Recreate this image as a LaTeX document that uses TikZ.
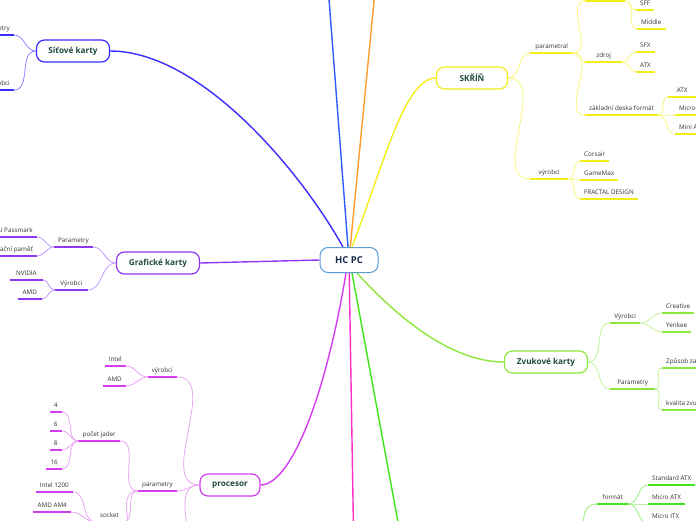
\documentclass[tikz,border=0pt]{standalone}
\usepackage{fontspec}
\setmainfont{Open Sans}

\definecolor{hcline}{HTML}{5B9BD5}
\definecolor{hctext}{HTML}{1C2B4A}
\definecolor{topictext}{HTML}{1D4A3C}
\definecolor{leaftext}{HTML}{333333}
\definecolor{sitc}{HTML}{3A2BFF}
\definecolor{sitl}{HTML}{8C86FF}
\definecolor{grac}{HTML}{9038F0}
\definecolor{gral}{HTML}{C29BFF}
\definecolor{skrc}{HTML}{F2EE1A}
\definecolor{skrl}{HTML}{FAF77A}
\definecolor{zvuc}{HTML}{8CE83A}
\definecolor{zvul}{HTML}{C2F59A}
\definecolor{proc}{HTML}{D43CF0}
\definecolor{prol}{HTML}{EBA3F7}
\definecolor{zakc}{HTML}{3FE81A}
\definecolor{zakl}{HTML}{9BF07F}
\definecolor{topblue}{HTML}{2F5BFF}
\definecolor{toporange}{HTML}{FF9C2A}
\definecolor{botpink}{HTML}{FF2FCB}

\tikzset{
    hub/.style={draw=hcline, line width=1pt, rounded corners=8pt, fill=white,
        minimum width=58pt, minimum height=25pt, text=hctext,
        font=\fontsize{9.5}{10}\selectfont\bfseries},
    topic/.style={draw=#1, line width=1.2pt, rounded corners=8pt, fill=white,
        minimum height=22pt, text=topictext,
        font=\fontsize{8.2}{9}\selectfont\bfseries},
    leaf/.style={font=\fontsize{6.3}{7}\selectfont, text=leaftext,
        inner xsep=4pt, inner ysep=2.5pt, text height=4.7pt, text depth=1.4pt,
        append after command={(\tikzlastnode.south west) edge[draw=#1, line width=1.8pt] (\tikzlastnode.south east)}},
    twig/.style={draw=#1, line width=0.8pt},
    main/.style={draw=#1, line width=1.4pt},
}

\begin{document}
\begin{tikzpicture}[x=1pt, y=-1pt]
    \useasboundingbox[fill=white] (0,0) rectangle (696,520);

    % Central node
    \node[hub] (hc) at (349,260) {HC PC};

    % Draw main topics
    \node[topic=sitc, minimum width=73pt] (sit) at (73,51) {Síťové karty};
    \node[topic=grac, minimum width=83pt] (gra) at (158,263) {Grafické karty};
    \node[topic=skrc, minimum width=71pt] (skr) at (472,78) {SKŘÍŇ};
    \node[topic=zvuc, minimum width=83pt] (zvu) at (546,362) {Zvukové karty};
    \node[topic=proc, minimum width=60pt] (pro) at (230,485) {procesor};

    % Topics beyond the page edge
    \coordinate (offA) at (326,-40);
    \coordinate (offB) at (378,-40);
    \coordinate (offC) at (354,560);
    \coordinate (offD) at (405,560);
    \coordinate (zak) at (575,590);

    % Draw main connections
    \draw[main=sitc] ([xshift=-6pt]hc.north) .. controls (300,170) and (200,51) .. (sit.east);
    \draw[main=topblue] (hc) -- (offA);
    \draw[main=toporange] (hc) -- (offB);
    \draw[main=skrc] ([xshift=3pt]hc.north) .. controls (385,160) and (405,78) .. (skr.west);
    \draw[main=zvuc] ([xshift=8pt]hc.south) .. controls (395,315) and (450,362) .. (zvu.west);
    \draw[main=zakc] ([xshift=3pt]hc.south) -- (offD);
    \draw[main=botpink] (hc) -- (offC);
    \draw[main=proc] ([xshift=-3pt]hc.south) .. controls (325,400) and (290,485) .. (pro.east);
    \draw[main=grac] (hc.west) -- (gra.east);

    % Síťové karty
    \node[leaf=sitc, anchor=south east] (sitpar) at (14,35) {Parametry};
    \node[leaf=sitc, anchor=south east] (sitvyr) at (14,90) {Výrobci};
    \draw[twig=sitl] (sit.west) to[out=180, in=0] (sitpar.south east);
    \draw[twig=sitl] (sit.west) to[out=180, in=0] (sitvyr.south east);

    % Grafické karty
    \node[leaf=grac, anchor=south east] (grapar) at (93,247) {Parametry};
    \node[leaf=grac, anchor=south east, minimum width=33pt] (gravyr) at (88,290) {Výrobci};
    \node[leaf=grac, anchor=south east] (grapass) at (37,237) {GPU Passmark};
    \node[leaf=grac, anchor=south east] (gramem) at (37,256) {Operační paměť};
    \node[leaf=grac, anchor=south east, minimum width=33pt] (granv) at (43,280) {NVIDIA};
    \node[leaf=grac, anchor=south east, minimum width=24pt] (graamd) at (42,299) {AMD};
    \draw[twig=gral] (gra.west) to[out=180, in=0] (grapar.south east);
    \draw[twig=gral] (gra.west) to[out=180, in=0] (gravyr.south east);
    \draw[twig=gral] (grapar.south west) to[out=180, in=0] (grapass.south east);
    \draw[twig=gral] (grapar.south west) to[out=180, in=0] (gramem.south east);
    \draw[twig=gral] (gravyr.south west) to[out=180, in=0] (granv.south east);
    \draw[twig=gral] (gravyr.south west) to[out=180, in=0] (graamd.south east);

    % procesor
    \node[leaf=proc, anchor=south east] (provyr) at (177,377) {výrobci};
    \node[leaf=proc, anchor=south east] (proint) at (126,366) {Intel};
    \node[leaf=proc, anchor=south east] (proamd) at (126,386) {AMD};
    \node[leaf=proc, anchor=south east] (propar) at (177,491) {parametry};
    \node[leaf=proc, anchor=south east] (projad) at (120,441) {počet jader};
    \node[leaf=proc, anchor=south east, minimum width=12pt] (pro4) at (62,412) {4};
    \node[leaf=proc, anchor=south east, minimum width=12pt] (pro6) at (62,431) {6};
    \node[leaf=proc, anchor=south east, minimum width=12pt] (pro8) at (62,450) {8};
    \node[leaf=proc, anchor=south east, minimum width=15pt] (pro16) at (62,469) {16};
    \node[leaf=proc, anchor=south east] (prosock) at (123,522) {socket};
    \node[leaf=proc, anchor=south east] (proi12) at (73,492) {Intel 1200};
    \node[leaf=proc, anchor=south east] (proam4) at (71,512) {AMD AM4};
    \coordinate (prooff) at (177,580);
    \coordinate (paroff) at (122,570);
    \draw[twig=prol] (pro.west) to[out=180, in=0] (provyr.south east);
    \draw[twig=prol] (pro.west) to[out=180, in=0] (propar.south east);
    \draw[twig=prol] (pro.west) to[out=180, in=0] (prooff);
    \draw[twig=prol] (provyr.south west) to[out=180, in=0] (proint.south east);
    \draw[twig=prol] (provyr.south west) to[out=180, in=0] (proamd.south east);
    \draw[twig=prol] (propar.south west) to[out=180, in=0] (projad.south east);
    \draw[twig=prol] (propar.south west) to[out=180, in=0] (prosock.south east);
    \draw[twig=prol] (propar.south west) to[out=180, in=0] (paroff);
    \foreach \n in {pro4, pro6, pro8, pro16}
        \draw[twig=prol] (projad.south west) to[out=180, in=0] (\n.south east);
    \draw[twig=prol] (prosock.south west) to[out=180, in=0] (proi12.south east);
    \draw[twig=prol] (prosock.south west) to[out=180, in=0] (proam4.south east);

    % SKŘÍŇ
    \node[leaf=skrc, anchor=south west, minimum width=43pt] (skrpar) at (530,53) {parametral};
    \node[leaf=skrc, anchor=south west, minimum width=40pt] (skrtop) at (585,1) {};
    \node[leaf=skrc, anchor=south west] (skrsff) at (636,10) {SFF};
    \node[leaf=skrc, anchor=south west] (skrmid) at (637,29) {Middle};
    \node[leaf=skrc, anchor=south west, minimum width=37pt] (skrzdr) at (585,62) {zdroj};
    \node[leaf=skrc, anchor=south west] (skrsfx) at (636,52) {SFX};
    \node[leaf=skrc, anchor=south west] (skratx) at (636,72) {ATX};
    \node[leaf=skrc, anchor=south west] (skrzak) at (585,115) {základní deska formát};
    \node[leaf=skrc, anchor=south west, minimum width=28pt] (skrzatx) at (668,97) {ATX};
    \node[leaf=skrc, anchor=south west] (skrmic) at (675,115) {Micro ATX};
    \node[leaf=skrc, anchor=south west] (skrmin) at (675,134) {Mini ATX};
    \node[leaf=skrc, anchor=south west, minimum width=38pt] (skrvyr) at (530,179) {výrobci};
    \node[leaf=skrc, anchor=south west] (skrcor) at (580,161) {Corsair};
    \node[leaf=skrc, anchor=south west] (skrgam) at (580,180) {GameMax};
    \node[leaf=skrc, anchor=south west] (skrfra) at (580,199) {FRACTAL DESIGN};
    \draw[twig=skrl] (skr.east) to[out=0, in=180] (skrpar.south west);
    \draw[twig=skrl] (skr.east) to[out=0, in=180] (skrvyr.south west);
    \foreach \n in {skrtop, skrzdr, skrzak}
        \draw[twig=skrl] (skrpar.south east) to[out=0, in=180] (\n.south west);
    \foreach \n in {skrsff, skrmid}
        \draw[twig=skrl] (skrtop.south east) to[out=0, in=180] (\n.south west);
    \foreach \n in {skrsfx, skratx}
        \draw[twig=skrl] (skrzdr.south east) to[out=0, in=180] (\n.south west);
    \foreach \n in {skrzatx, skrmic, skrmin}
        \draw[twig=skrl] (skrzak.south east) to[out=0, in=180] (\n.south west);
    \foreach \n in {skrcor, skrgam, skrfra}
        \draw[twig=skrl] (skrvyr.south east) to[out=0, in=180] (\n.south west);

    % Zvukové karty
    \node[leaf=zvuc, anchor=south west, minimum width=30pt] (zvuvyr) at (610,323) {Výrobci};
    \node[leaf=zvuc, anchor=south west] (zvucre) at (662,313) {Creative};
    \node[leaf=zvuc, anchor=south west] (zvuyen) at (662,332) {Yenkee};
    \node[leaf=zvuc, anchor=south west, minimum width=45pt] (zvupar) at (610,389) {Parametry};
    \node[leaf=zvuc, anchor=south west] (zvuzp) at (662,368) {Způsob zapojení};
    \node[leaf=zvuc, anchor=south west] (zvukv) at (662,410) {kvalita zvuku};
    \draw[twig=zvul] (zvu.east) to[out=0, in=180] (zvuvyr.south west);
    \draw[twig=zvul] (zvu.east) to[out=0, in=180] (zvupar.south west);
    \draw[twig=zvul] (zvuvyr.south east) to[out=0, in=180] (zvucre.south west);
    \draw[twig=zvul] (zvuvyr.south east) to[out=0, in=180] (zvuyen.south west);
    \draw[twig=zvul] (zvupar.south east) to[out=0, in=180] (zvuzp.south west);
    \draw[twig=zvul] (zvupar.south east) to[out=0, in=180] (zvukv.south west);

    % formát
    \node[leaf=zakc, anchor=south west, minimum width=31pt] (zakfor) at (597,504) {formát};
    \node[leaf=zakc, anchor=south west] (zakstd) at (648,485) {Standard ATX};
    \node[leaf=zakc, anchor=south west] (zakmatx) at (648,504) {Micro ATX};
    \node[leaf=zakc, anchor=south west] (zakitx) at (648,523) {Micro ITX};
    \draw[twig=zakl] (zak) to[out=0, in=180] (zakfor.south west);
    \foreach \n in {zakstd, zakmatx, zakitx}
        \draw[twig=zakl] (zakfor.south east) to[out=0, in=180] (\n.south west);
\end{tikzpicture}
\end{document}
